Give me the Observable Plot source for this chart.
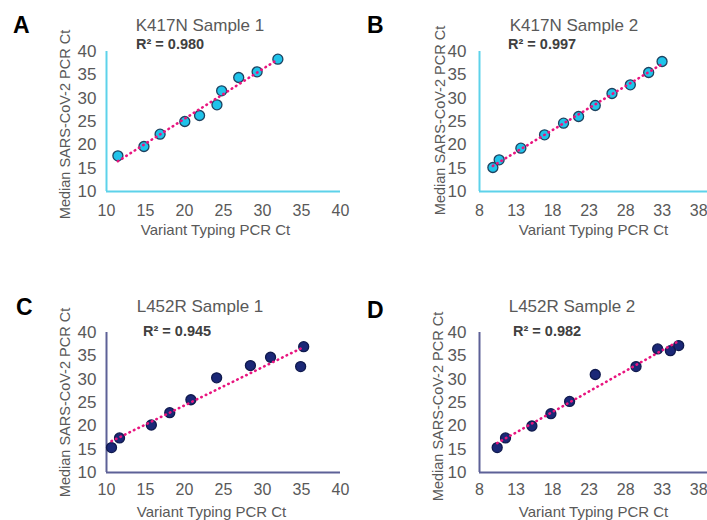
<!DOCTYPE html>
<html>
<head>
<meta charset="utf-8">
<script src="https://cdn.jsdelivr.net/npm/d3@7"></script>
<script src="https://cdn.jsdelivr.net/npm/@observablehq/plot@0.6"></script>
<style>
  html, body { margin: 0; padding: 0; background: #fff; }
  #root { position: relative; width: 707px; height: 520px; overflow: hidden; font-family: "Liberation Sans", Arial, sans-serif; }
  .panel { position: absolute; }
  .lbl { position: absolute; white-space: nowrap; line-height: 1; font-family: "Liberation Sans", Arial, sans-serif; }
</style>
</head>
<body>
<div id="root"></div>
<script>
// ---------- data ----------
const panelLetters = ["A", "B", "C", "D"];
const panelTitles = ["K417N Sample 1", "K417N Sample 2", "L452R Sample 1", "L452R Sample 2"];
const r2Labels = ["R² = 0.980", "R² = 0.997", "R² = 0.945", "R² = 0.982"];
const xAxisTitle = "Variant Typing PCR Ct";
const yAxisTitle = "Median SARS-CoV-2 PCR Ct";

const xTicks10 = [10, 15, 20, 25, 30, 35, 40];
const xTicks8 = [8, 13, 18, 23, 28, 33, 38];
const yTicks = [10, 15, 20, 25, 30, 35, 40];

const aX = [11.46, 14.8, 16.87, 20.04, 21.93, 24.16, 24.76, 26.95, 29.31, 31.97];
const aY = [17.64, 19.64, 22.29, 25.0, 26.29, 28.57, 31.57, 34.43, 35.64, 38.36];

const bX = [9.83, 10.69, 13.66, 16.9, 19.5, 21.56, 23.84, 26.13, 28.64, 31.15, 32.98];
const bY = [15.14, 16.79, 19.29, 22.14, 24.64, 26.07, 28.43, 31.0, 32.86, 35.5, 37.86];

const cX = [10.64, 11.67, 15.75, 18.11, 20.82, 24.12, 28.45, 31.03, 34.89, 35.28];
const cY = [15.34, 17.4, 20.18, 22.81, 25.59, 30.28, 32.92, 34.7, 32.7, 36.97];

const dX = [10.42, 11.56, 15.17, 17.77, 20.33, 23.84, 29.42, 32.38, 34.12, 35.26];
const dY = [15.34, 17.4, 19.96, 22.6, 25.23, 31.0, 32.7, 36.47, 36.1, 37.2];

// ---------- layout / style ----------
const FONT = '"Liberation Sans", Arial, sans-serif';
const cyanAxis = "#5dd2ea", navyAxis = "#5d6197";
const cyanFill = "#1fc3ea", cyanStroke = "#1e4260";
const navyFill = "#1b2877", navyStroke = "#101a4e";
const trendColor = "#e8157f";
const textGray = "#595959";

const panels = [
  { xs: aX, ys: aY, xDomain: [10, 40], xTicks: xTicks10, left: 0, top: 0, w: 353, h: 260,
    mL: 106, mR: 13, mT: 51, mB: 69, axis: cyanAxis, fill: cyanFill, stroke: cyanStroke,
    padX: 13, padY: 10, ylDx: -41, ylDy: 3, xlDx: -8, xlDy: 39,
    letter: [13, 33], title: [200, 31], r2: [136, 49] },
  { xs: bX, ys: bY, xDomain: [8, 39.2], xTicks: xTicks8, left: 353, top: 0, w: 354, h: 260,
    mL: 126, mR: 0, mT: 51, mB: 69, axis: cyanAxis, fill: cyanFill, stroke: cyanStroke,
    padX: 13, padY: 13, ylDx: -39, ylDy: -1, xlDx: 0, xlDy: 39,
    letter: [367, 33], title: [574, 31], r2: [508, 49] },
  { xs: cX, ys: cY, xDomain: [10, 40], xTicks: xTicks10, left: 0, top: 260, w: 353, h: 260,
    mL: 106, mR: 13, mT: 72, mB: 48, axis: navyAxis, fill: navyFill, stroke: navyStroke,
    padX: 11, padY: 10, ylDx: -41, ylDy: 0, xlDx: -12, xlDy: 40,
    letter: [16, 315], title: [200, 312], r2: [143, 336] },
  { xs: dX, ys: dY, xDomain: [8, 39.2], xTicks: xTicks8, left: 353, top: 260, w: 354, h: 260,
    mL: 126, mR: 0, mT: 72, mB: 48, axis: navyAxis, fill: navyFill, stroke: navyStroke,
    padX: 11, padY: 13, ylDx: -41.5, ylDy: 4, xlDx: 0, xlDy: 40,
    letter: [367, 318], title: [572, 312], r2: [513, 336] }
];

const root = document.getElementById("root");

function addLabel(text, x, baseline, size, weight, color, align) {
  const el = document.createElement("div");
  el.className = "lbl";
  el.textContent = text;
  el.style.fontSize = size + "px";
  el.style.fontWeight = weight;
  el.style.color = color;
  el.style.top = (baseline - 0.8305 * size) + "px";
  if (align === "center") {
    el.style.left = (x - 150) + "px";
    el.style.width = "300px";
    el.style.textAlign = "center";
  } else {
    el.style.left = x + "px";
  }
  root.appendChild(el);
}

panels.forEach((p, i) => {
  const data = p.xs.map((x, j) => ({ x, y: p.ys[j] }));
  const chart = Plot.plot({
    width: p.w,
    height: p.h,
    marginLeft: p.mL,
    marginRight: p.mR,
    marginTop: p.mT,
    marginBottom: p.mB,
    style: { fontFamily: FONT, color: textGray, background: "transparent", overflow: "visible" },
    x: { domain: p.xDomain, label: null },
    y: { domain: [10, 40], label: null },
    marks: [
      Plot.axisX(p.xTicks, { tickSize: 0, tickPadding: p.padX, fontSize: 16, label: null, fill: textGray }),
      Plot.axisY(yTicks, { tickSize: 0, tickPadding: p.padY, fontSize: 17, label: null, fill: textGray }),
      Plot.ruleX([p.xDomain[0]], { stroke: p.axis, strokeWidth: 2 }),
      Plot.ruleY([yTicks[0]], { stroke: p.axis, strokeWidth: 2 }),
      Plot.dot(data, { x: "x", y: "y", r: 5, fill: p.fill, stroke: p.stroke, strokeWidth: 1.3 }),
      Plot.linearRegressionY(data, { x: "x", y: "y", ci: 0, stroke: trendColor, strokeWidth: 2.6,
        strokeDasharray: "0.5,4.5", strokeLinecap: "round" }),
      Plot.text([yAxisTitle], { text: d => d, frameAnchor: "left", rotate: -90, dx: p.ylDx, dy: p.ylDy,
        fontSize: 14.5, fill: textGray, textAnchor: "middle", lineAnchor: "middle" }),
      Plot.text([xAxisTitle], { text: d => d, frameAnchor: "bottom", dx: p.xlDx, dy: p.xlDy,
        fontSize: 15, fill: textGray, textAnchor: "middle", lineAnchor: "middle" })
    ]
  });
  chart.classList.add("panel");
  chart.style.left = p.left + "px";
  chart.style.top = p.top + "px";
  root.appendChild(chart);

  addLabel(panelLetters[i], p.letter[0], p.letter[1], 23, "bold", "#000", "left");
  addLabel(panelTitles[i], p.title[0], p.title[1], 17, "normal", textGray, "center");
  addLabel(r2Labels[i], p.r2[0], p.r2[1], 14.5, "bold", "#404040", "left");
});
</script>
</body>
</html>
